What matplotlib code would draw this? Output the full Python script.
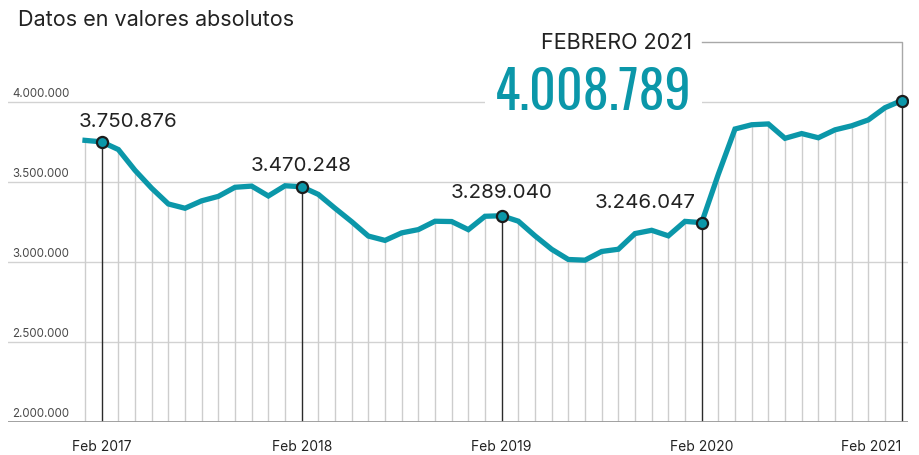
import matplotlib
matplotlib.use('Agg')
import matplotlib.pyplot as plt
from matplotlib import font_manager as fm

# paro registrado, Jan 2017 - Feb 2021 (monthly)
values = [3760231, 3750876, 3702974, 3573036, 3461128, 3362811, 3335924, 3382324, 3410182, 3467026, 3474281, 3412781,
          3476528, 3470248, 3422551, 3335868, 3252130, 3162162, 3135021, 3182068, 3202509, 3254703, 3252867, 3202297,
          3285761, 3289040, 3255084, 3163566, 3079491, 3015686, 3011433, 3065804, 3079711, 3177659, 3198184, 3163605,
          3253853, 3246047, 3548312, 3831203, 3857776, 3862883, 3773034, 3802814, 3776485, 3826043, 3851312, 3888137,
          3964353, 4008789]
highlight = [1, 13, 25, 37, 49]  # every February
xlabels = ['Feb 2017', 'Feb 2018', 'Feb 2019', 'Feb 2020', 'Feb 2021']
yticks = [2000000, 2500000, 3000000, 3500000, 4000000]

TEAL = '#0b97a9'
W, H = 920, 456
PX = 72 / 100  # points per pixel


def fmt(v):
    return f'{v:,}'.replace(',', '.')


def pick_condensed(size):
    prefs = ['Oswald[wght].ttf', 'Oswald-Regular.ttf', 'BarlowCondensed-Medium.ttf',
             'FiraSansExtraCondensed-Regular.ttf', 'RobotoCondensed[wght].ttf', 'RobotoCondensed-Regular.ttf']
    files = {f.fname.split('/')[-1]: f.fname for f in fm.fontManager.ttflist}
    for p in prefs:
        if p in files:
            return fm.FontProperties(fname=files[p], size=size)
    return fm.FontProperties(family='DejaVu Sans', stretch='condensed', size=size)


plt.rcParams['font.family'] = ['Inter', 'DejaVu Sans']

fig = plt.figure(figsize=(W / 100, H / 100), dpi=100)
# axes spans pixel x 8..908, y 30..423; 16.67 px per month, 80 px per 500.000
ax = fig.add_axes([8 / W, (H - 423) / H, 900 / W, (423 - 30) / H])
ax.set_xlim((8 - 85) / (200 / 12), (908 - 85) / (200 / 12))
ax.set_ylim(2000000, 2000000 + (423 - 30) * 6250)
for s in ax.spines.values():
    s.set_visible(False)
ax.set_yticks([])

x = list(range(len(values)))

for yv in yticks[1:]:
    ax.axhline(yv, color='#d2d2d2', lw=1, zorder=0)
ax.axhline(yticks[0], color='#9a9a9a', lw=1.3, zorder=3)
for yv in yticks:
    ax.annotate(fmt(yv), xy=(0.0045, yv), xycoords=('axes fraction', 'data'),
                xytext=(0, 3 * PX), textcoords='offset points',
                ha='left', va='bottom', fontsize=8.3, color='#4a4a4a')

# monthly drop lines
grey_x = [i for i in x if i not in highlight]
ax.vlines(grey_x, yticks[0], [values[i] for i in grey_x], colors='#cdcdcd', lw=1, zorder=1)
ax.vlines(highlight, yticks[0], [values[i] for i in highlight], colors='#2a2a2a', lw=1, zorder=2)

ax.plot(x, values, color=TEAL, lw=3.8, solid_joinstyle='miter', zorder=4)
ax.plot(highlight, [values[i] for i in highlight], 'o', ms=8, mfc=TEAL, mec='#1c1c1c', mew=1.6, zorder=5)

# value labels
offsets = [(-22.7, 21, 'left'), (0, 22, 'center'), (0, 24, 'center'), (-6, 21, 'right')]
for i, (dx, dy, ha) in zip(highlight[:-1], offsets):
    ax.annotate(fmt(values[i]), xy=(i, values[i]), xytext=(dx * PX, dy * PX),
                textcoords='offset points', ha=ha, va='center', fontsize=14.8, color='#222222')

# last value callout
last = highlight[-1]
prev = highlight[-2]
yc = 4000000 + (103.5 - 43) * 6250
ax.plot([prev, last, last], [yc, yc, values[last]], color='#a8a8a8', lw=1, zorder=1, clip_on=False)
ax.text(prev - 0.6, yc, 'FEBRERO 2021', ha='right', va='center', fontsize=15.5, color='#222222')
ax.text(prev - 0.6, 4000000 + 9 * 6250, fmt(values[last]), ha='right', va='center',
        fontproperties=pick_condensed(37.5), color=TEAL, zorder=6,
        bbox=dict(boxstyle='square,pad=0.2', fc='white', ec='none'))

ax.set_xticks(highlight)
ax.set_xticklabels(xlabels, fontsize=10, color='#222222')
ax.get_xticklabels()[-1].set_ha('right')
ax.tick_params(axis='x', length=0, pad=17 * PX)

fig.text(18 / W, 1 - 20 / H, 'Datos en valores absolutos', ha='left', va='center', fontsize=15.5, color='#222222')

fig.savefig('out.png', dpi=100)
